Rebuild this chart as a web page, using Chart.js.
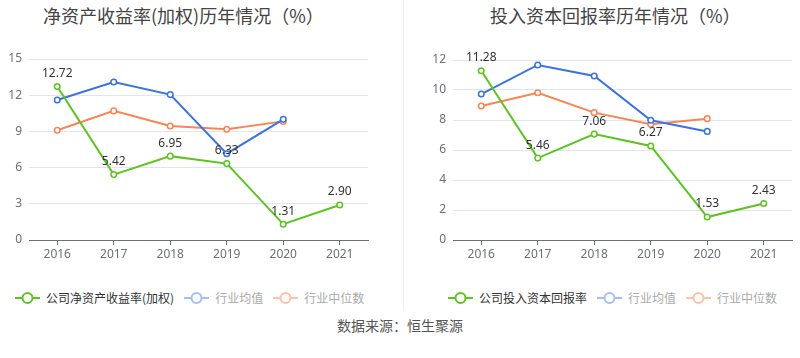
<!DOCTYPE html>
<html>
<head>
<meta charset="utf-8">
<script src="https://cdn.jsdelivr.net/npm/chart.js@4/dist/chart.umd.min.js"></script>
<style>
  body { margin: 0; width: 800px; height: 358px; background: #fff; position: relative; overflow: hidden;
         font-family: "Noto Sans CJK SC", "Noto Sans", sans-serif; }
  .title { position: absolute; top: 2px; font-size: 18px; color: #444; white-space: nowrap; }
  .box { position: absolute; top: 40px; width: 400px; height: 230px; }
  .divider { position: absolute; left: 403px; top: 0; width: 1px; height: 310px; background: #eee; }
  .legend { position: absolute; top: 289px; font-size: 12px; white-space: nowrap; display: flex; align-items: center; }
  .legend span.item { display: inline-flex; align-items: center; margin-right: 10px; }
  .legend canvas { margin-right: 6px; }
  .source { position: absolute; top: 315px; left: 0; width: 800px; text-align: center; font-size: 14px; color: #555; }
</style>
</head>
<body>
<div class="title" style="left:43px">净资产收益率(加权)历年情况（%）</div>
<div class="title" style="left:490px">投入资本回报率历年情况（%）</div>
<div class="divider"></div>
<div class="box" style="left:0"><canvas id="roe-chart"></canvas></div>
<div class="box" style="left:400px"><canvas id="roic-chart"></canvas></div>
<div class="legend" id="legend-roe" style="left:15px"></div>
<div class="legend" id="legend-roic" style="left:448px"></div>
<div class="source">数据来源：恒生聚源</div>

<script>
const years = ["2016", "2017", "2018", "2019", "2020", "2021"];

// 净资产收益率(加权)
const roeCompany = [12.72, 5.42, 6.95, 6.33, 1.31, 2.90];
const roeAvg = [11.6, 13.1, 12.05, 7.15, 10.0, null];
const roeMedian = [9.1, 10.7, 9.45, 9.17, 9.83, null];
const roeTicks = [0, 3, 6, 9, 12, 15];

// 投入资本回报率
const roicCompany = [11.28, 5.46, 7.06, 6.27, 1.53, 2.43];
const roicAvg = [9.73, 11.67, 10.93, 7.98, 7.24, null];
const roicMedian = [8.93, 9.82, 8.49, 7.71, 8.09, null];
const roicTicks = [0, 2, 4, 6, 8, 10, 12];

const GREEN = "#5cc41f";
const BLUE = "#3a73e0";
const ORANGE = "#fc8452";

// labels above the company points
const valueLabels = {
  id: "valueLabels",
  afterDatasetsDraw(chart) {
    const ctx = chart.ctx;
    const meta = chart.getDatasetMeta(0);
    const data = chart.data.datasets[0].data;
    ctx.save();
    ctx.font = "12px 'Noto Sans', 'Liberation Sans', sans-serif";
    ctx.fillStyle = "#333";
    ctx.textAlign = "center";
    ctx.textBaseline = "bottom";
    meta.data.forEach((pt, i) => {
      ctx.fillText(data[i].toFixed(2), pt.x, pt.y - 7);
    });
    ctx.restore();
  },
};

function lineSet(label, data, color) {
  return {
    label,
    data,
    borderColor: color,
    backgroundColor: "#fff",
    borderWidth: 2,
    pointRadius: 2.8,
    pointBorderWidth: 1.5,
    pointBackgroundColor: "#fff",
    pointBorderColor: color,
    tension: 0,
    spanGaps: false,
  };
}

function makeChart(id, company, avg, median, ticks, axisWidth, padRight, padTop, companyLabel) {
  const ctx = document.querySelector(id).getContext("2d");
  return new Chart(ctx, {
    type: "line",
    data: {
      labels: years,
      datasets: [
        lineSet(companyLabel, company, GREEN),
        lineSet("行业均值", avg, BLUE),
        lineSet("行业中位数", median, ORANGE),
      ],
    },
    options: {
      responsive: false,
      animation: false,
      layout: { padding: { left: 0, right: padRight, top: padTop, bottom: 0 } },
      plugins: { legend: { display: false }, tooltip: { enabled: false } },
      scales: {
        x: {
          offset: true,
          grid: { drawOnChartArea: false, drawTicks: true, tickLength: 5, color: "#6e7079" },
          border: { color: "#6e7079" },
          ticks: { color: "#6e7079", font: { size: 12, family: "'Noto Sans', sans-serif" }, padding: 2 },
          afterFit(scale) { scale.height = 30; },
        },
        y: {
          min: ticks[0],
          max: ticks[ticks.length - 1],
          afterBuildTicks(scale) { scale.ticks = ticks.map((v) => ({ value: v })); },
          grid: { color: "#e0e6f1", drawTicks: false },
          border: { display: false },
          ticks: { color: "#6e7079", font: { size: 12, family: "'Noto Sans', sans-serif" }, padding: 7 },
          afterFit(scale) { scale.width = axisWidth; },
        },
      },
    },
    plugins: [valueLabels],
  });
}

function sizeCanvas(id) {
  const c = document.querySelector(id);
  c.width = 400;
  c.height = 230;
  c.style.width = "400px";
  c.style.height = "230px";
}
sizeCanvas("#roe-chart");
sizeCanvas("#roic-chart");

makeChart("#roe-chart", roeCompany, roeAvg, roeMedian, roeTicks, 29, 32, 19, "公司净资产收益率(加权)");
makeChart("#roic-chart", roicCompany, roicAvg, roicMedian, roicTicks, 53, 8, 20, "公司投入资本回报率");

// html legends, industry items shown faded
function drawSymbol(color) {
  const c = document.createElement("canvas");
  c.width = 25;
  c.height = 14;
  const g = c.getContext("2d");
  g.strokeStyle = color;
  g.lineWidth = 2;
  g.beginPath();
  g.moveTo(0, 7);
  g.lineTo(25, 7);
  g.stroke();
  g.fillStyle = "#fff";
  g.beginPath();
  g.arc(12.5, 7, 5, 0, Math.PI * 2);
  g.fill();
  g.stroke();
  return c;
}

function buildLegend(id, companyLabel) {
  const el = document.querySelector(id);
  [
    [companyLabel, GREEN, "#333"],
    ["行业均值", "#a3bff3", "#aaa"],
    ["行业中位数", "#fdc2a8", "#aaa"],
  ].forEach(([text, color, textColor]) => {
    const item = document.createElement("span");
    item.className = "item";
    item.append(drawSymbol(color));
    const t = document.createElement("span");
    t.textContent = text;
    t.style.color = textColor;
    item.append(t);
    el.append(item);
  });
}
buildLegend("#legend-roe", "公司净资产收益率(加权)");
buildLegend("#legend-roic", "公司投入资本回报率");
</script>
</body>
</html>
